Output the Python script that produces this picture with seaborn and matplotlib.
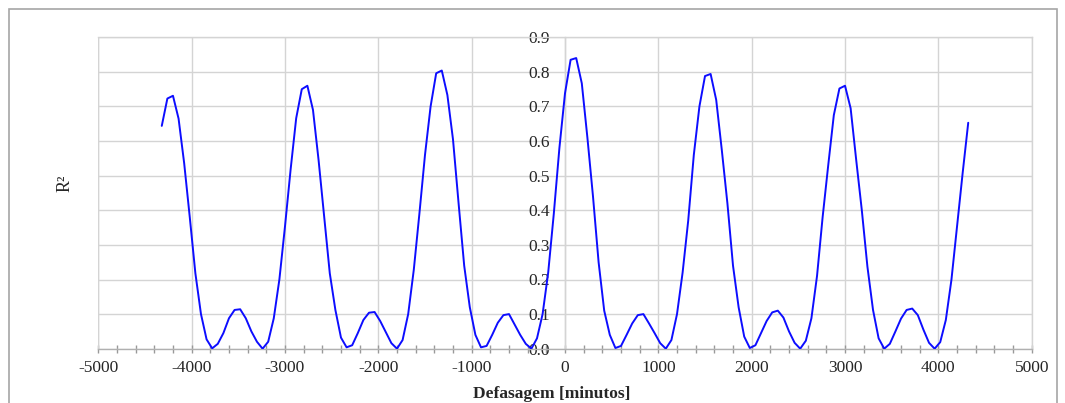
import numpy as np
import pandas as pd
import seaborn as sns
import matplotlib
matplotlib.use("Agg")
from matplotlib import pyplot as plt
from matplotlib.patches import Rectangle
from matplotlib.ticker import MultipleLocator

# lag in minutes, 60 min steps from -4320 to 4320
lag = list(range(-4320, 4321, 60))

r2 = [0.644, 0.723, 0.731, 0.665, 0.536, 0.380, 0.218, 0.100, 0.027, 0.001,
      0.014, 0.045, 0.088, 0.112, 0.114, 0.088, 0.050, 0.020, 0.000, 0.020,
      0.088, 0.200, 0.353, 0.517, 0.666, 0.750, 0.760, 0.690, 0.545, 0.380,
      0.218, 0.112, 0.032, 0.004, 0.010, 0.045, 0.083, 0.104, 0.106, 0.080,
      0.048, 0.016, 0.000, 0.025, 0.100, 0.228, 0.390, 0.560, 0.700, 0.796,
      0.804, 0.733, 0.605, 0.420, 0.240, 0.120, 0.040, 0.004, 0.008, 0.040,
      0.075, 0.097, 0.100, 0.070, 0.040, 0.014, 0.000, 0.030, 0.100, 0.220,
      0.390, 0.580, 0.738, 0.835, 0.840, 0.767, 0.610, 0.440, 0.250, 0.110,
      0.040, 0.002, 0.008, 0.040, 0.073, 0.097, 0.100, 0.073, 0.045, 0.016,
      0.000, 0.025, 0.100, 0.220, 0.370, 0.560, 0.700, 0.788, 0.794, 0.719,
      0.574, 0.420, 0.240, 0.120, 0.035, 0.002, 0.010, 0.045, 0.080, 0.105,
      0.110, 0.090, 0.050, 0.017, 0.000, 0.023, 0.088, 0.210, 0.380, 0.530,
      0.675, 0.752, 0.760, 0.695, 0.545, 0.400, 0.237, 0.112, 0.030, 0.000,
      0.014, 0.050, 0.087, 0.112, 0.116, 0.097, 0.055, 0.017, 0.000, 0.019,
      0.083, 0.199, 0.353, 0.507, 0.653]

df = pd.DataFrame({'lag': lag, 'r2': r2})

sns.set_style('white')
plt.rcParams['font.family'] = ['Liberation Serif', 'DejaVu Serif']
plt.rcParams['font.size'] = 12
plt.rcParams['axes.unicode_minus'] = False

fig = plt.figure(figsize=(10.65, 4.03), dpi=100)
ax = fig.add_axes([98.3/1065, 1-348.7/403, (1031.7-98.3)/1065, (348.7-37.3)/403])

grid_c = '#d4d4d4'
sns.lineplot(data=df, x='lag', y='r2', ax=ax, color='#0d0dff', linewidth=1.4, zorder=3)

ax.set_xlim(-5000, 5000)
ax.set_ylim(0, 0.9)
ax.xaxis.set_major_locator(MultipleLocator(1000))
ax.xaxis.set_minor_locator(MultipleLocator(200))
ax.yaxis.set_major_locator(MultipleLocator(0.1))
ax.yaxis.set_major_formatter(matplotlib.ticker.FormatStrFormatter('%.1f'))
ax.grid(True, which='major', color=grid_c, linewidth=1.0)
ax.set_axisbelow(True)

for s in ['top', 'right']:
    ax.spines[s].set_color(grid_c)
    ax.spines[s].set_linewidth(1.0)
ax.spines['bottom'].set_color('#b0b0b0')
ax.spines['bottom'].set_linewidth(1.0)
ax.spines['left'].set_position(('data', 0))
ax.spines['left'].set_color(grid_c)
ax.spines['left'].set_linewidth(1.0)
# left frame edge at -5000
ax.axvline(-5000, color=grid_c, linewidth=1.0, zorder=1)

ax.tick_params(axis='x', which='both', direction='inout', length=6, width=1.0,
               color='#999999', pad=5, labelsize=12.5, bottom=True)
ax.tick_params(axis='y', length=0, pad=11, labelsize=12.5)
ax.set_xlabel('')
ax.set_ylabel('')

fig.text(552/1065, 1-394/403, 'Defasagem [minutos]', ha='center', va='center',
         fontsize=12.5, fontweight='bold')
fig.text(65/1065, 1-183/403, 'R²', ha='center', va='center', rotation=90, fontsize=13)

# outer frame of the chart area
fig.patches.append(Rectangle((8.5/1065, -0.05), (1057-8.5)/1065, 1.05-9.3/403,
                             transform=fig.transFigure, fill=False,
                             edgecolor='#a6a6a6', linewidth=1.2))

plt.savefig('out.png', dpi=100)
